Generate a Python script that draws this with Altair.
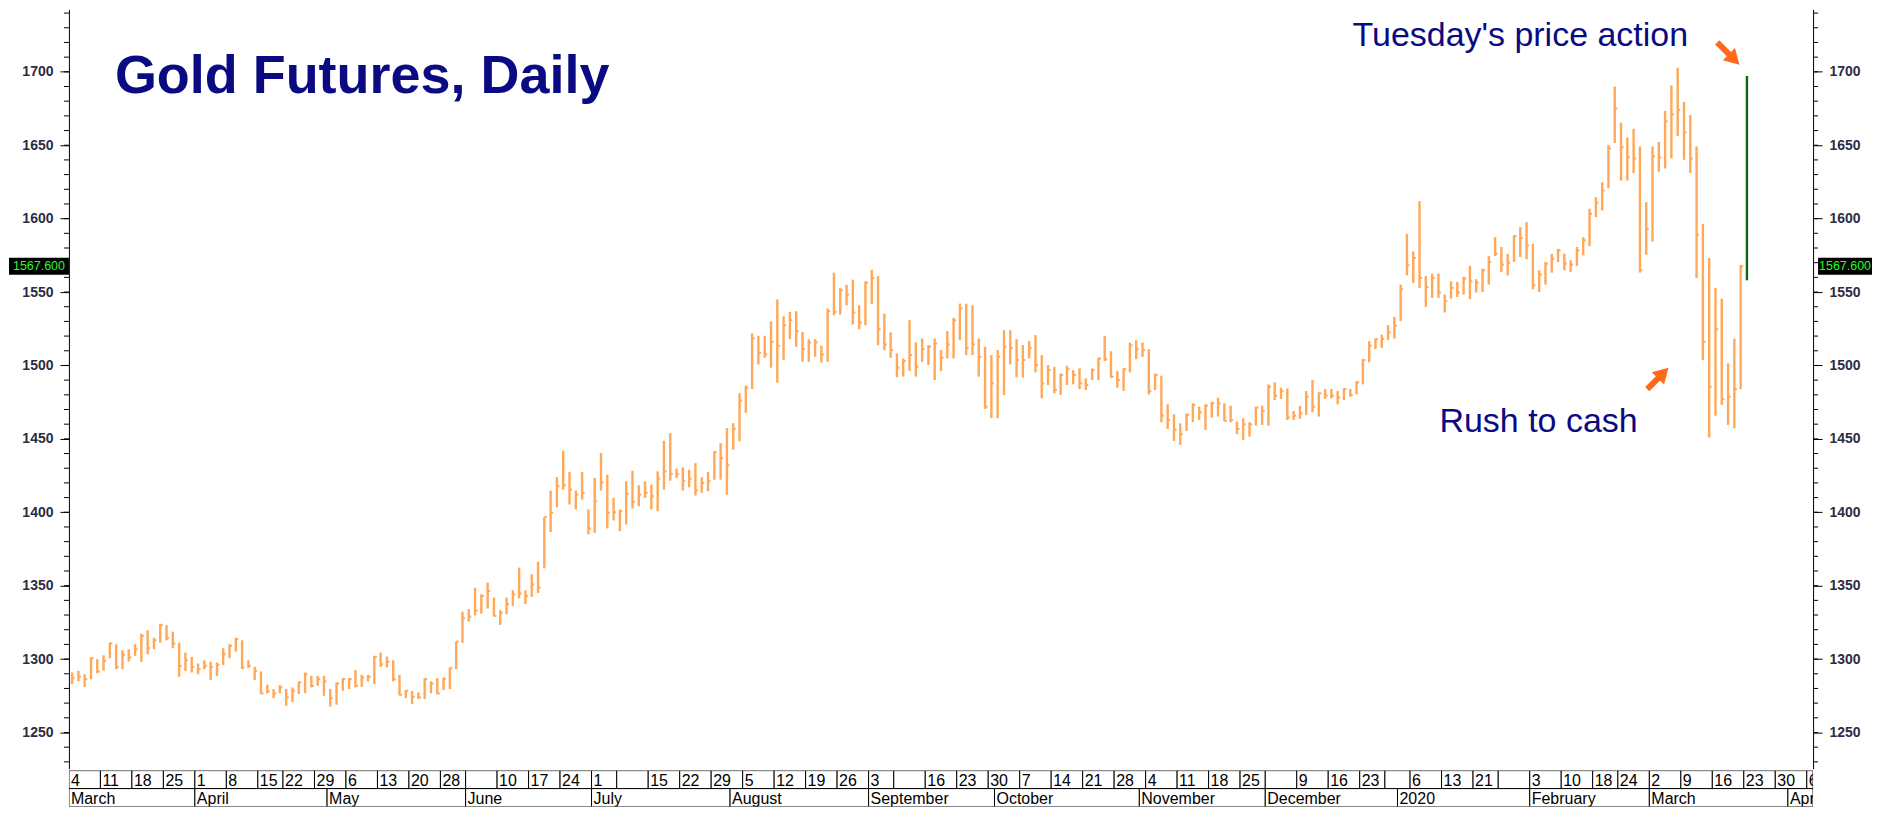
import altair as alt
import pandas as pd

# ---------------- data ----------------
highs = [
    1290.9, 1292.0, 1289.7, 1301.1, 1299.9, 1302.6, 1311.2, 1310.1, 1306.0, 1306.7,
    1310.1, 1317.4, 1319.6, 1314.6, 1324.1, 1323.2, 1318.7, 1311.2, 1304.5, 1301.5,
    1297.0, 1299.2, 1298.3, 1297.7, 1307.4, 1310.1, 1314.6, 1312.8, 1299.2, 1294.7,
    1291.6, 1282.5, 1279.6, 1282.3, 1279.6, 1280.7, 1284.8, 1290.9, 1288.6, 1288.6,
    1288.6, 1279.6, 1284.1, 1287.0, 1287.0, 1292.5, 1289.3, 1289.3, 1302.2, 1304.5,
    1301.7, 1299.2, 1289.3, 1278.9, 1278.4, 1277.3, 1287.0, 1284.8, 1287.0, 1287.5,
    1294.3, 1311.9, 1332.3, 1334.0, 1348.6, 1344.1, 1352.1, 1341.9, 1333.3, 1341.9,
    1346.9, 1362.3, 1346.9, 1357.7, 1366.3, 1396.7, 1414.8, 1424.0, 1441.9, 1427.4,
    1414.8, 1427.4, 1401.9, 1423.4, 1440.3, 1425.6, 1409.8, 1401.9, 1421.1, 1428.3,
    1418.4, 1421.1, 1418.8, 1427.9, 1448.7, 1453.9, 1429.7, 1430.6, 1429.0, 1433.5,
    1423.8, 1427.4, 1441.5, 1447.1, 1457.3, 1460.7, 1481.1, 1486.3, 1521.8, 1520.2,
    1520.2, 1530.1, 1544.9, 1533.5, 1536.5, 1536.9, 1522.9, 1517.9, 1517.9, 1513.4,
    1538.8, 1563.2, 1552.8, 1555.0, 1558.4, 1541.0, 1557.3, 1565.2, 1560.9, 1535.4,
    1522.5, 1508.2, 1504.8, 1530.8, 1515.7, 1518.4, 1513.9, 1518.4, 1510.5, 1523.4,
    1532.4, 1542.1, 1542.1, 1541.0, 1518.4, 1512.7, 1507.1, 1510.5, 1524.0, 1524.0,
    1517.9, 1513.9, 1516.6, 1520.6, 1507.1, 1500.3, 1499.1, 1494.6, 1499.8, 1496.8,
    1498.0, 1491.2, 1498.0, 1505.2, 1520.2, 1509.7, 1496.2, 1498.0, 1515.6, 1517.2,
    1515.6, 1511.1, 1494.6, 1493.0, 1473.5, 1466.7, 1460.6, 1467.4, 1474.2, 1471.9,
    1473.5, 1475.3, 1478.1, 1474.2, 1472.6, 1461.8, 1464.0, 1461.3, 1471.9, 1472.6,
    1487.1, 1488.5, 1484.9, 1484.4, 1469.0, 1472.6, 1482.6, 1490.1, 1481.7, 1484.0,
    1484.0, 1482.6, 1484.4, 1484.0, 1489.4, 1504.3, 1516.5, 1518.4, 1521.0, 1527.5,
    1533.1, 1555.1, 1589.7, 1577.7, 1611.9, 1561.0, 1562.6, 1562.6, 1548.3, 1557.3,
    1556.9, 1560.3, 1567.8, 1558.7, 1565.9, 1574.5, 1587.4, 1580.7, 1576.1, 1588.6,
    1594.2, 1597.6, 1582.9, 1564.8, 1570.5, 1576.1, 1579.5, 1576.1, 1571.6, 1580.7,
    1587.4, 1606.7, 1614.6, 1624.8, 1650.1, 1690.0, 1665.3, 1655.3, 1661.2, 1649.2,
    1611.2, 1649.2, 1652.3, 1673.4, 1690.8, 1702.8, 1679.5, 1670.5, 1649.2, 1596.4,
    1573.1, 1552.8, 1545.5, 1501.4, 1518.3, 1568.5,
]
lows = [
    1283.0, 1284.8, 1281.1, 1286.3, 1290.4, 1292.0, 1300.6, 1293.1, 1293.1, 1298.3,
    1302.2, 1298.1, 1303.3, 1306.7, 1311.2, 1312.8, 1307.4, 1287.9, 1292.0, 1290.9,
    1289.7, 1293.1, 1285.7, 1288.6, 1295.9, 1300.6, 1305.1, 1293.1, 1293.8, 1285.7,
    1276.2, 1276.6, 1273.4, 1276.6, 1268.2, 1270.7, 1276.2, 1276.8, 1280.7, 1281.8,
    1275.0, 1267.6, 1268.9, 1278.4, 1279.6, 1280.7, 1281.1, 1284.8, 1283.0, 1294.7,
    1294.3, 1284.8, 1275.3, 1273.4, 1269.4, 1272.8, 1272.8, 1276.6, 1276.2, 1278.9,
    1279.6, 1293.1, 1311.0, 1325.5, 1329.7, 1331.0, 1334.4, 1329.2, 1323.3, 1330.6,
    1336.2, 1341.4, 1337.4, 1342.3, 1345.0, 1361.8, 1386.5, 1403.4, 1415.4, 1405.3,
    1401.9, 1408.6, 1384.9, 1386.0, 1414.8, 1389.0, 1394.4, 1387.1, 1391.7, 1402.5,
    1404.1, 1409.8, 1401.9, 1400.7, 1415.4, 1421.5, 1423.4, 1414.8, 1417.0, 1411.4,
    1413.2, 1414.3, 1422.2, 1422.2, 1412.0, 1442.6, 1448.3, 1467.8, 1484.0, 1500.7,
    1505.2, 1498.5, 1488.3, 1503.7, 1517.9, 1512.7, 1502.5, 1502.5, 1505.9, 1501.9,
    1502.5, 1534.2, 1534.7, 1541.0, 1527.9, 1524.7, 1527.4, 1541.9, 1513.8, 1510.5,
    1505.2, 1491.9, 1492.4, 1496.2, 1492.4, 1502.5, 1500.3, 1490.1, 1496.2, 1504.8,
    1504.8, 1517.2, 1507.1, 1507.1, 1492.4, 1470.4, 1464.1, 1464.1, 1479.9, 1500.7,
    1491.9, 1491.7, 1504.8, 1495.3, 1477.6, 1486.7, 1481.0, 1479.9, 1486.7, 1487.1,
    1483.9, 1483.3, 1490.1, 1490.1, 1503.0, 1491.6, 1484.9, 1482.6, 1495.3, 1504.3,
    1505.9, 1480.3, 1483.3, 1461.3, 1456.8, 1448.6, 1445.9, 1455.4, 1461.3, 1462.9,
    1456.1, 1464.5, 1465.2, 1462.2, 1461.3, 1453.2, 1449.3, 1451.6, 1459.0, 1459.5,
    1459.0, 1476.5, 1477.2, 1462.9, 1462.9, 1463.6, 1466.3, 1468.1, 1465.2, 1477.2,
    1477.6, 1473.5, 1476.5, 1478.7, 1480.3, 1487.1, 1502.1, 1511.1, 1512.0, 1517.3,
    1518.4, 1530.2, 1561.4, 1556.2, 1552.8, 1539.9, 1546.0, 1546.0, 1536.1, 1545.6,
    1546.7, 1548.3, 1545.1, 1549.7, 1550.1, 1555.1, 1574.5, 1563.7, 1561.4, 1570.5,
    1573.9, 1572.3, 1551.9, 1550.1, 1555.1, 1563.2, 1570.5, 1564.8, 1563.7, 1567.8,
    1575.0, 1581.3, 1601.0, 1605.6, 1620.7, 1651.5, 1625.9, 1625.9, 1631.0, 1563.2,
    1575.4, 1584.4, 1632.0, 1634.2, 1641.0, 1656.4, 1640.1, 1631.1, 1559.5, 1503.6,
    1450.9, 1465.8, 1473.1, 1459.5, 1457.2, 1483.9,
]
closes = [
    1287.0, 1287.9, 1286.3, 1300.6, 1291.6, 1298.8, 1310.6, 1294.7, 1302.9, 1301.1,
    1306.7, 1315.8, 1307.4, 1312.8, 1323.2, 1314.2, 1310.6, 1295.4, 1299.2, 1294.7,
    1293.1, 1295.4, 1294.7, 1296.1, 1303.3, 1309.0, 1313.5, 1294.3, 1295.4, 1292.0,
    1276.6, 1278.0, 1276.6, 1280.7, 1273.9, 1278.4, 1284.1, 1289.7, 1281.8, 1286.3,
    1284.8, 1273.4, 1283.4, 1286.3, 1286.3, 1281.8, 1287.5, 1287.9, 1301.5, 1296.5,
    1298.3, 1286.3, 1275.7, 1278.4, 1274.3, 1273.9, 1286.3, 1283.4, 1276.6, 1286.3,
    1293.8, 1311.9, 1327.8, 1329.0, 1333.0, 1343.0, 1346.4, 1329.4, 1331.7, 1337.4,
    1344.1, 1344.6, 1343.0, 1350.9, 1348.7, 1396.7, 1399.6, 1417.7, 1418.4, 1415.4,
    1412.0, 1413.2, 1389.0, 1407.5, 1420.4, 1399.6, 1400.0, 1400.7, 1412.5, 1407.1,
    1412.0, 1413.2, 1410.9, 1422.9, 1427.9, 1426.1, 1426.1, 1421.5, 1422.9, 1414.8,
    1420.0, 1421.1, 1441.0, 1436.9, 1432.0, 1456.9, 1476.1, 1484.8, 1518.4, 1508.6,
    1507.5, 1516.1, 1513.4, 1527.4, 1530.8, 1523.4, 1511.1, 1515.7, 1515.7, 1507.5,
    1536.9, 1536.5, 1551.2, 1548.3, 1536.0, 1529.2, 1556.4, 1559.6, 1524.7, 1514.3,
    1510.5, 1498.5, 1503.0, 1507.1, 1499.1, 1511.1, 1512.7, 1515.0, 1505.2, 1514.3,
    1530.8, 1538.8, 1512.0, 1514.3, 1505.9, 1472.0, 1487.8, 1505.9, 1512.7, 1512.0,
    1503.7, 1503.7, 1512.0, 1500.3, 1487.8, 1496.9, 1483.3, 1493.5, 1497.5, 1493.5,
    1487.8, 1486.7, 1496.8, 1504.8, 1504.3, 1492.3, 1490.1, 1497.5, 1513.8, 1511.1,
    1510.4, 1482.6, 1493.5, 1465.8, 1462.9, 1456.1, 1453.2, 1466.3, 1473.1, 1468.1,
    1472.6, 1474.2, 1474.2, 1462.2, 1462.9, 1456.8, 1459.9, 1459.9, 1471.3, 1469.0,
    1485.5, 1479.4, 1482.6, 1464.5, 1465.8, 1467.4, 1478.7, 1471.9, 1481.0, 1479.4,
    1479.4, 1478.1, 1483.9, 1479.9, 1488.5, 1503.6, 1513.4, 1517.9, 1518.0, 1522.5,
    1527.0, 1551.9, 1568.2, 1573.2, 1559.6, 1553.5, 1559.6, 1549.7, 1543.8, 1552.8,
    1549.7, 1559.2, 1557.3, 1556.4, 1564.8, 1570.5, 1576.1, 1568.7, 1570.0, 1588.1,
    1586.8, 1581.8, 1554.6, 1561.9, 1569.3, 1572.7, 1578.4, 1569.3, 1568.7, 1578.4,
    1585.2, 1603.3, 1610.8, 1619.1, 1647.9, 1675.0, 1648.6, 1641.8, 1641.0, 1564.8,
    1593.0, 1642.4, 1641.7, 1666.2, 1671.1, 1674.1, 1658.7, 1641.0, 1589.0, 1516.1,
    1485.5, 1524.7, 1477.2, 1478.7, 1483.9, 1567.6,
]
# Tuesday's bar (drawn in green)
tue_day = [266]
tue_high = [1697.2]
tue_low = [1558.0]

last_price = [1567.6]
last_price_text = ["1567.600"]

major_ticks = [1250, 1300, 1350, 1400, 1450, 1500, 1550, 1600, 1650, 1700]
minor_ticks = list(range(1230, 1741, 10))

# date strip: index of the first trading day of each week / month
week_starts = [0, 5, 10, 15, 20, 25, 30, 34, 39, 44, 49, 54, 59, 63, 68, 73, 78, 83, 87, 92,
               97, 102, 107, 112, 117, 122, 127, 131, 136, 141, 146, 151, 156, 161, 166,
               171, 176, 181, 186, 190, 195, 200, 205, 209, 213, 218, 223, 227, 232, 237,
               242, 246, 251, 256, 261, 266, 271, 276]
week_labels = ["4", "11", "18", "25", "1", "8", "15", "22", "29", "6", "13", "20", "28", "",
               "10", "17", "24", "1", "", "15", "22", "29", "5", "12", "19", "26", "3", "",
               "16", "23", "30", "7", "14", "21", "28", "4", "11", "18", "25", "", "9", "16",
               "23", "", "6", "13", "21", "", "3", "10", "18", "24", "2", "9", "16", "23",
               "30", "6"]
month_starts = [0, 20, 41, 63, 83, 105, 127, 147, 170, 190, 211, 232, 251, 273]
month_labels = ["March", "April", "May", "June", "July", "August", "September", "October",
                "November", "December", "2020", "February", "March", "April"]

# ---------------- styling ----------------
W, H = 1746, 760
LEFT_EXT, RIGHT_EXT = 60, 59
XDOM = [-0.5, 276.5]
YDOM = [1225.4, 1742.5]
ORANGE = "#FFA858"
NAVY = "#0A0A82"
ARROW = "#FF6A1A"
FONT = "Liberation Sans"

xs = alt.Scale(domain=XDOM, nice=False, zero=False)
ys = alt.Scale(domain=YDOM, nice=False, zero=False)

bars = pd.DataFrame({"day": list(range(len(highs))), "high": highs, "low": lows, "close": closes})
tue = pd.DataFrame({"day": tue_day, "high": tue_high, "low": tue_low})
lp = pd.DataFrame({"v": last_price, "t": last_price_text})
minor = pd.DataFrame({"v": minor_ticks})


def yaxis(orient, extent):
    return alt.Axis(orient=orient, values=major_ticks, format="d", title=None, grid=False,
                    tickSize=9, tickColor="black", domainColor="black", tickWidth=1,
                    labelFont=FONT, labelFontSize=14, labelFontWeight="bold",
                    labelColor="#2c2c44", labelPadding=7,
                    minExtent=extent, maxExtent=extent, labelOverlap=False)


hl = alt.Chart(bars).mark_rule(color=ORANGE, strokeWidth=2.4).encode(
    x=alt.X("day:Q", scale=xs, axis=None),
    y=alt.Y("low:Q", scale=ys, axis=yaxis("left", LEFT_EXT)),
    y2="high:Q",
)
cl = alt.Chart(bars).transform_calculate(d2="datum.day + 0.4").mark_rule(
    color=ORANGE, strokeWidth=2).encode(
    x=alt.X("day:Q", scale=xs, axis=None),
    x2="d2:Q",
    y=alt.Y("close:Q", scale=ys, axis=yaxis("right", RIGHT_EXT)),
)
green = alt.Chart(tue).mark_rule(color="#0B6B0B", strokeWidth=2.4).encode(
    x=alt.X("day:Q", scale=xs, axis=None),
    y=alt.Y("low:Q", scale=ys, axis=None),
    y2="high:Q",
)
minor_l = alt.Chart(minor).mark_rule(color="black").encode(
    y=alt.Y("v:Q", scale=ys, axis=None), x=alt.value(-5), x2=alt.value(0))
minor_r = alt.Chart(minor).mark_rule(color="black").encode(
    y=alt.Y("v:Q", scale=ys, axis=None), x=alt.value(W), x2=alt.value(W + 5))

box_l = alt.Chart(lp).mark_rect(color="black", yOffset=-8.5, y2Offset=8.5).encode(
    y=alt.Y("v:Q", scale=ys, axis=None), y2="v:Q", x=alt.value(-LEFT_EXT), x2=alt.value(0))
box_r = alt.Chart(lp).mark_rect(color="black", yOffset=-8.5, y2Offset=8.5).encode(
    y=alt.Y("v:Q", scale=ys, axis=None), y2="v:Q", x=alt.value(W + 5),
    x2=alt.value(W + RIGHT_EXT))
txt_l = alt.Chart(lp).mark_text(color="#22FF22", font=FONT, fontSize=12.5, align="center",
                                baseline="middle").encode(
    y=alt.Y("v:Q", scale=ys, axis=None), x=alt.value(-LEFT_EXT / 2), text="t:N")
txt_r = alt.Chart(lp).mark_text(color="#22FF22", font=FONT, fontSize=12.5, align="center",
                                baseline="middle").encode(
    y=alt.Y("v:Q", scale=ys, axis=None), x=alt.value(W + 5 + (RIGHT_EXT - 5) / 2), text="t:N")

title = alt.Chart(pd.DataFrame({"t": ["Gold Futures, Daily"]})).mark_text(
    font=FONT, fontSize=54, fontWeight="bold", color=NAVY, align="left",
    baseline="alphabetic").encode(text="t:N", x=alt.value(46), y=alt.value(84))
note1 = alt.Chart(pd.DataFrame({"t": ["Tuesday's price action"]})).mark_text(
    font=FONT, fontSize=34, color=NAVY, align="left", baseline="alphabetic").encode(
    text="t:N", x=alt.value(1285), y=alt.value(37))
note2 = alt.Chart(pd.DataFrame({"t": ["Rush to cash"]})).mark_text(
    font=FONT, fontSize=34, color=NAVY, align="left", baseline="alphabetic").encode(
    text="t:N", x=alt.value(1372), y=alt.value(423))

one = pd.DataFrame({"k": [0]})
shaft1 = alt.Chart(one).mark_rule(color=ARROW, strokeWidth=6).encode(
    x=alt.value(1650), y=alt.value(33), x2=alt.value(1665), y2=alt.value(48))
head1 = alt.Chart(one).mark_point(shape="triangle-up", filled=True, opacity=1, color=ARROW,
                                  size=300, angle=135).encode(
    x=alt.value(1667), y=alt.value(50))
shaft2 = alt.Chart(one).mark_rule(color=ARROW, strokeWidth=6).encode(
    x=alt.value(1580), y=alt.value(380), x2=alt.value(1593), y2=alt.value(367))
head2 = alt.Chart(one).mark_point(shape="triangle-up", filled=True, opacity=1, color=ARROW,
                                  size=300, angle=45).encode(
    x=alt.value(1596), y=alt.value(364))

main = alt.layer(
    hl, cl, green, minor_l, minor_r, box_l, box_r, txt_l, txt_r,
    title, note1, note2, shaft1, head1, shaft2, head2,
).properties(width=W, height=H).resolve_axis(y="independent")

# ---------------- date strip ----------------
weeks = pd.DataFrame({"start": week_starts, "end": week_starts[1:] + [277], "label": week_labels})
months = pd.DataFrame({"start": month_starts, "end": month_starts[1:] + [277], "label": month_labels})

wk = alt.Chart(weeks).transform_calculate(x0="datum.start - 0.5", x1="datum.end - 0.5")
mo = alt.Chart(months).transform_calculate(x0="datum.start - 0.5", x1="datum.end - 0.5")

RH = 18
wk_box = wk.mark_rect(fill="white", stroke="black", strokeWidth=1, clip=True).encode(
    x=alt.X("x0:Q", scale=xs, axis=None), x2="x1:Q", y=alt.value(0), y2=alt.value(RH))
wk_txt = wk.mark_text(font=FONT, fontSize=16, color="black", align="left",
                      baseline="alphabetic", dx=2, clip=True).encode(
    x=alt.X("x0:Q", scale=xs, axis=None), y=alt.value(15), text="label:N")
mo_box = mo.mark_rect(fill="white", stroke="black", strokeWidth=1, clip=True).encode(
    x=alt.X("x0:Q", scale=xs, axis=None), x2="x1:Q", y=alt.value(RH), y2=alt.value(2 * RH))
mo_txt = mo.mark_text(font=FONT, fontSize=16, color="black", align="left",
                      baseline="alphabetic", dx=2, clip=True).encode(
    x=alt.X("x0:Q", scale=xs, axis=None), y=alt.value(RH + 15), text="label:N")

strip = alt.layer(wk_box, wk_txt, mo_box, mo_txt).properties(width=W, height=2 * RH)

chart = alt.vconcat(main, strip, spacing=0, padding=0, background="white").configure_view(
    stroke="transparent")

chart.save("out.html", embed_options={"renderer": "svg", "actions": False})
